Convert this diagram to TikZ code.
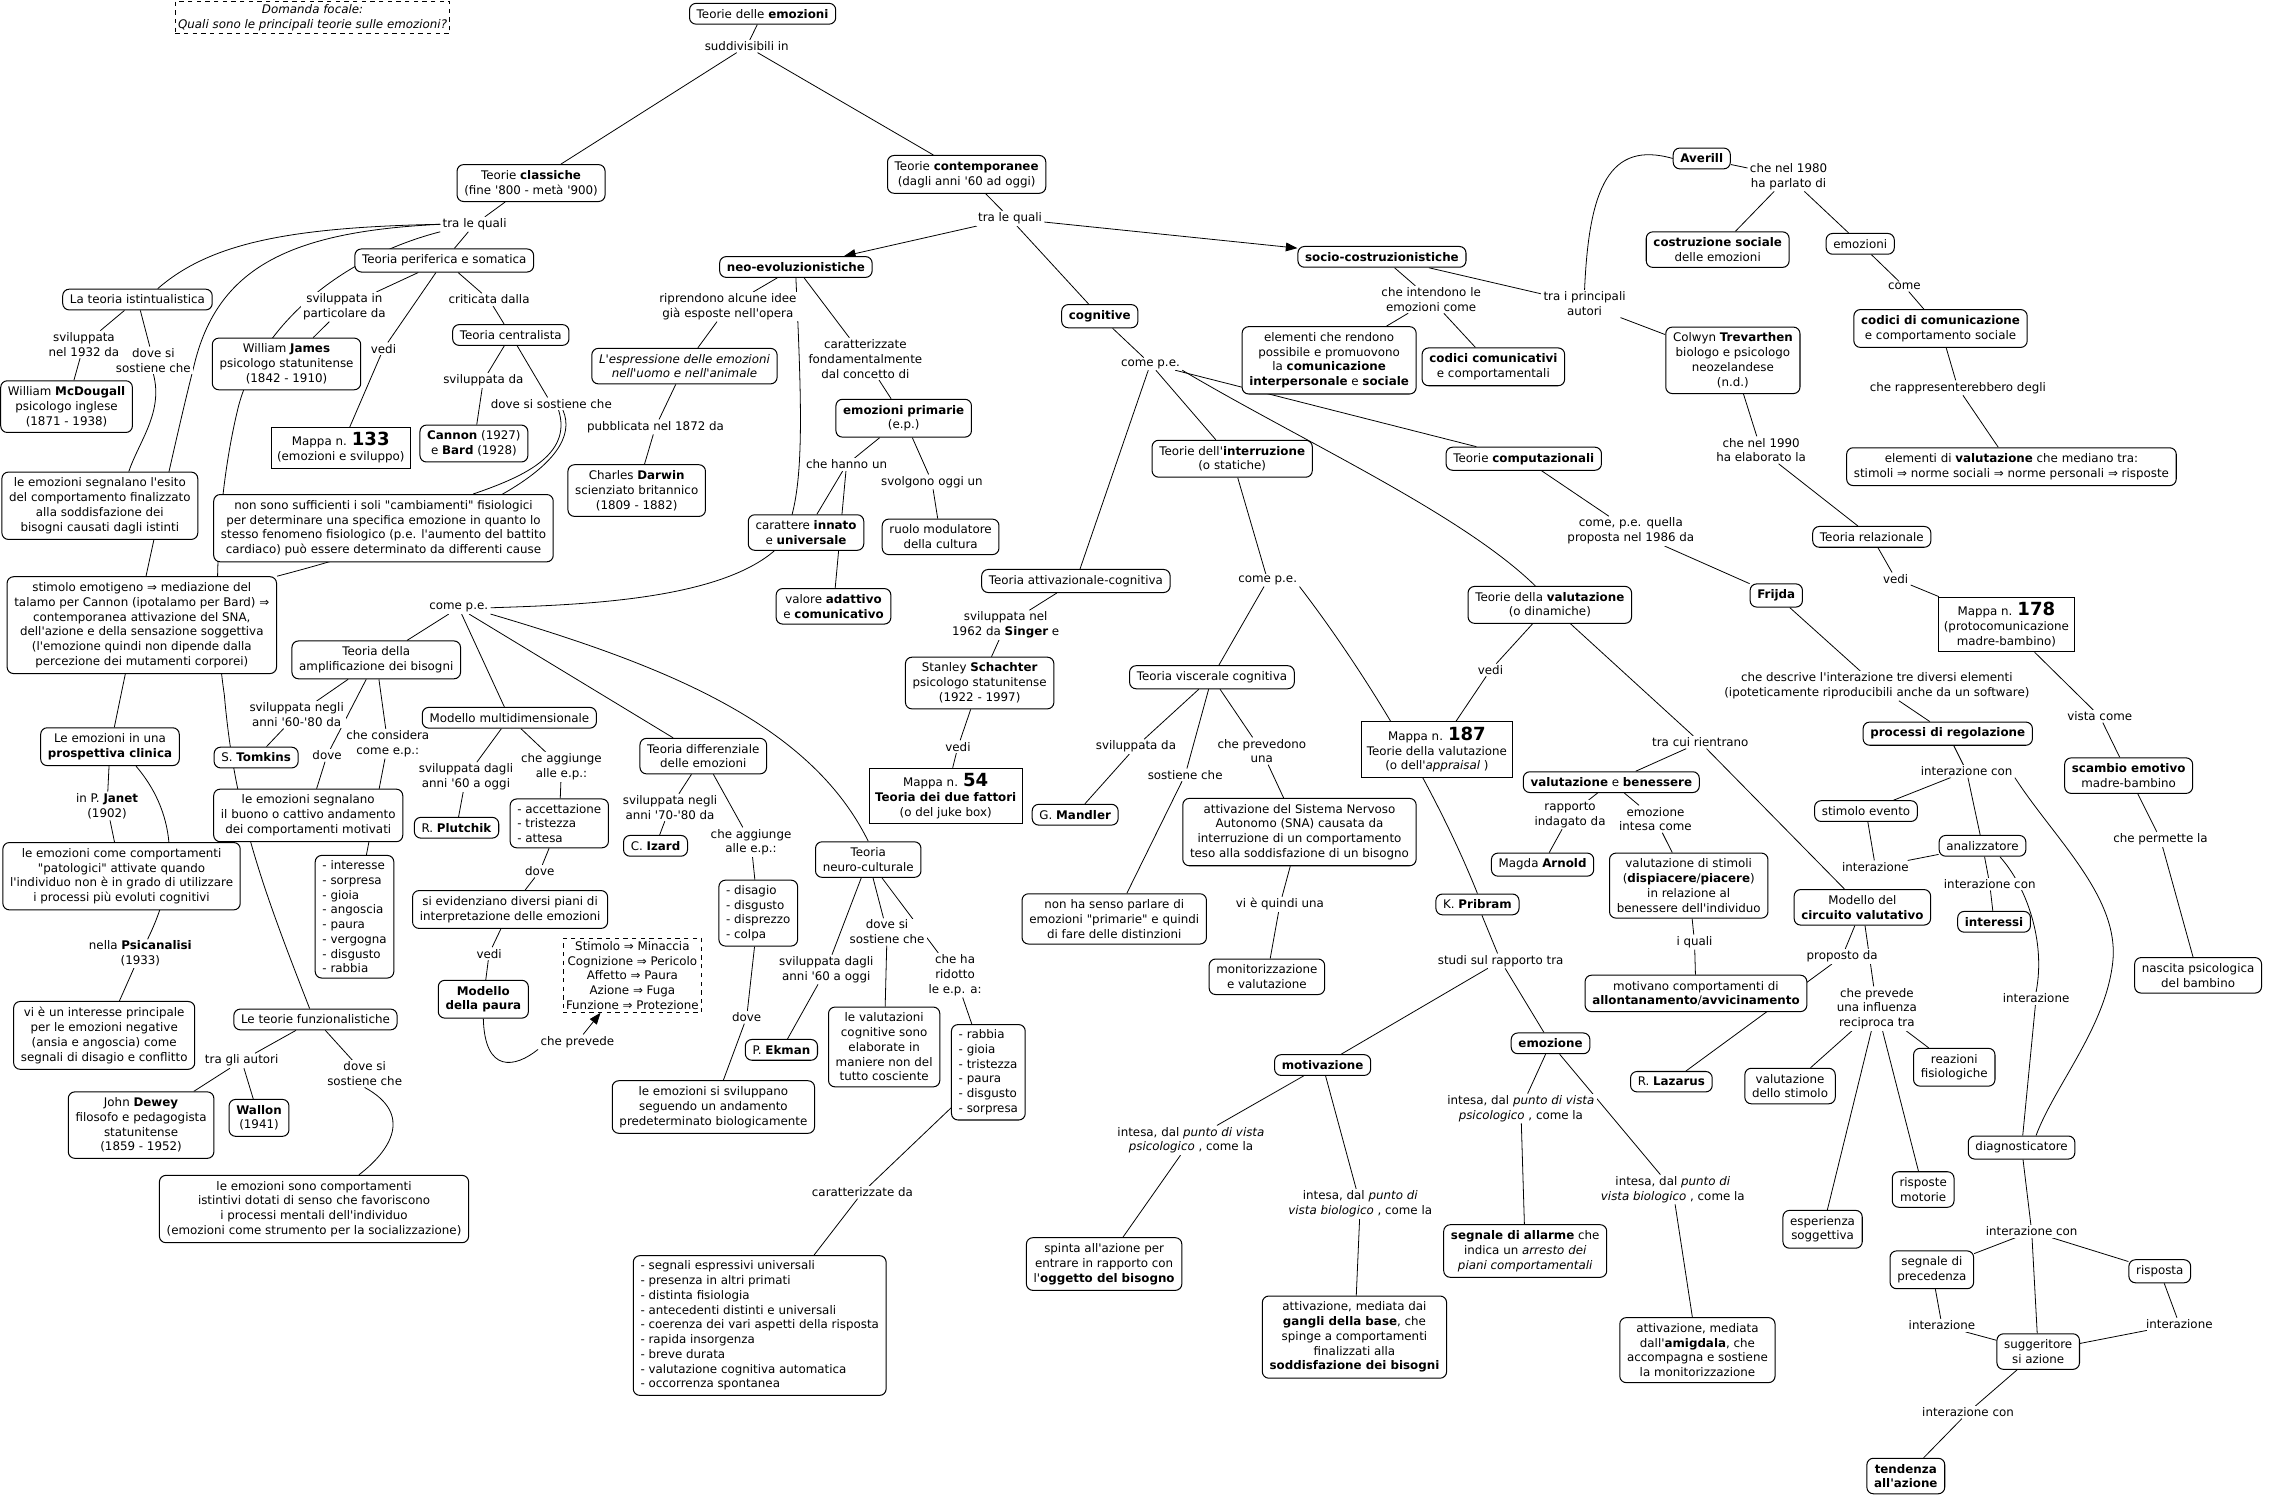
\documentclass[tikz,border=0pt]{standalone}
\usepackage{fontspec}
\setmainfont{DejaVu Sans}[Ligatures=TeXOff]
\usetikzlibrary{arrows.meta}
\pgfdeclarelayer{bg}
\pgfsetlayers{bg,main}
\tikzset{
  cb/.style={draw, line width=0.7pt, rounded corners=4.5pt, fill=white, align=center, inner xsep=5pt, inner ysep=4pt},
  rb/.style={draw, line width=0.7pt, fill=white, align=center, inner xsep=4pt, inner ysep=3.5pt},
  lb/.style={fill=white, align=center, inner xsep=1.5pt, inner ysep=1pt},
  lst/.style={cb, align=left, inner ysep=3.5pt},
  dbox/.style={draw, dashed, line width=0.6pt, fill=white, align=center, inner xsep=2pt, inner ysep=2pt},
  cn/.style={line width=0.55pt},
  ar/.style={cn, -{Triangle[length=8pt,width=6pt]}},
}
\newcommand{\bignum}[1]{{\fontsize{12.5}{12}\selectfont\bfseries #1}}
\begin{document}
\begin{tikzpicture}[x=1pt, y=-1pt, font=\fontsize{8.2}{10.2}\selectfont]
\useasboundingbox (0,0) rectangle (1568,1039);
% ---------- top
\node[dbox, font=\fontsize{8.2}{10.2}\selectfont\itshape] (focal) at (216,12) {Domanda focale:\\Quali sono le principali teorie sulle emozioni?};
\node[cb] (root) at (527,9.5) {Teorie delle \textbf{emozioni}};
\node[lb] (suddiv) at (516,32) {suddivisibili in};
\node[cb] (classiche) at (367,126.5) {Teorie \textbf{classiche}\\(fine '800 - metà '900)};
\node[cb] (contemp) at (668,120.5) {Teorie \textbf{contemporanee}\\(dagli anni '60 ad oggi)};
% ---------- classiche
\node[lb] (traclas) at (328,155) {tra le quali};
\node[cb] (perif) at (307,180) {Teoria periferica e somatica};
\node[cb] (istint) at (95,207) {La teoria istintualistica};
\node[lb] (svilpart) at (238,212) {sviluppata in\\particolare da};
\node[lb] (vedi133) at (265,241) {vedi};
\node[lb] (critic) at (338,207) {criticata dalla};
\node[cb] (james) at (198,251.5) {William \textbf{James}\\psicologo statunitense\\(1842 - 1910)};
\node[rb] (m133) at (235.5,309.5) {Mappa n. \bignum{133}\\(emozioni e sviluppo)};
\node[cb] (central) at (353,231.5) {Teoria centralista};
\node[lb] (svilda1) at (334,263) {sviluppata da};
\node[lb] (dovecent) at (381,279) {dove si sostiene che};
\node[cb] (cannon) at (327.5,306.5) {\textbf{Cannon} (1927)\\e \textbf{Bard} (1928)};
\node[lb] (doveist) at (106,249) {dove si\\sostiene che};
\node[lb] (svil1932) at (58,238) {sviluppata\\nel 1932 da};
\node[cb] (mcdoug) at (46,281) {William \textbf{McDougall}\\psicologo inglese\\(1871 - 1938)};
\node[cb] (esito) at (69,349.5) {le emozioni segnalano l'esito\\del comportamento finalizzato\\alla soddisfazione dei\\bisogni causati dagli istinti};
\node[cb] (nonsono) at (265,365) {non sono sufficienti i soli "cambiamenti" fisiologici\\per determinare una specifica emozione in quanto lo\\stesso fenomeno fisiologico (p.e. l'aumento del battito\\cardiaco) può essere determinato da differenti cause};
\node[cb] (stimolo) at (98,432) {stimolo emotigeno ⇒ mediazione del\\talamo per Cannon (ipotalamo per Bard) ⇒\\contemporanea attivazione del SNA,\\dell'azione e della sensazione soggettiva\\(l'emozione quindi non dipende dalla\\percezione dei mutamenti corporei)};
\node[cb] (clinica) at (76,516) {Le emozioni in una\\\textbf{prospettiva clinica}};
\node[lb] (janet) at (74,557) {in P. \textbf{Janet}\\(1902)};
\node[cb] (patol) at (84,605.5) {le emozioni come comportamenti\\"patologici" attivate quando\\l'individuo non è in grado di utilizzare\\i processi più evoluti cognitivi};
\node[lb] (psican) at (97,659) {nella \textbf{Psicanalisi}\\(1933)};
\node[cb] (vie) at (72,715.5) {vi è un interesse principale\\per le emozioni negative\\(ansia e angoscia) come\\segnali di disagio e conflitto};
\node[cb] (funz) at (218,704.5) {Le teorie funzionalistiche};
\node[lb] (tragli) at (167,733) {tra gli autori};
\node[lb] (dovefun) at (252,742) {dove si\\sostiene che};
\node[cb] (dewey) at (97.5,777.5) {John \textbf{Dewey}\\filosofo e pedagogista\\statunitense\\(1859 - 1952)};
\node[cb] (wallon) at (179,772.5) {\textbf{Wallon}\\(1941)};
\node[cb] (istintivi) at (217,835.5) {le emozioni sono comportamenti\\istintivi dotati di senso che favoriscono\\i processi mentali dell'individuo\\(emozioni come strumento per la socializzazione)};
% ---------- neo-evoluzionistiche
\node[lb] (tracont) at (698,151) {tra le quali};
\node[cb] (neoevo) at (550,184.5) {\textbf{neo-evoluzionistiche}};
\node[lb] (riprend) at (503,212) {riprendono alcune idee\\già esposte nell'opera};
\node[cb] (espress) at (473,253) {\textit{L'espressione delle emozioni}\\\textit{nell'uomo e nell'animale}};
\node[lb] (pubbl) at (453,295) {pubblicata nel 1872 da};
\node[cb] (darwin) at (440,339) {Charles \textbf{Darwin}\\scienziato britannico\\(1809 - 1882)};
\node[lb] (caratt) at (598,248) {caratterizzate\\fondamentalmente\\dal concetto di};
\node[cb] (eprim) at (624.5,289) {\textbf{emozioni primarie}\\(e.p.)};
\node[lb] (hanno) at (585,321) {che hanno un};
\node[lb] (svolgono) at (644,333) {svolgono oggi un};
\node[cb] (innato) at (557,368) {carattere \textbf{innato}\\e \textbf{universale}};
\node[cb] (ruolo) at (650,371) {ruolo modulatore\\della cultura};
\node[cb] (adattivo) at (576,419) {valore \textbf{adattivo}\\e \textbf{comunicativo}};
\node[lb] (comepe1) at (317,420) {come p.e.};
\node[cb] (amplif) at (260,456) {Teoria della\\amplificazione dei bisogni};
\node[lb] (svil6080) at (205,494) {sviluppata negli\\anni '60-'80 da};
\node[lb] (dove1) at (226,522) {dove};
\node[lb] (considera) at (268,514) {che considera\\come e.p.:};
\node[cb] (tomkins) at (177,523.5) {S. \textbf{Tomkins}};
\node[cb] (buono) at (213,563.5) {le emozioni segnalano\\il buono o cattivo andamento\\dei comportamenti motivati};
\node[lst] (list1) at (245,633.5) {- interesse\\- sorpresa\\- gioia\\- angoscia\\- paura\\- vergogna\\- disgusto\\- rabbia};
\node[cb] (multid) at (352,496) {Modello multidimensionale};
\node[lb] (svil60) at (322,537) {sviluppata dagli\\anni '60 a oggi};
\node[lb] (aggiunge1) at (388,530) {che aggiunge\\alle e.p.:};
\node[cb] (plutchik) at (315.5,572) {R. \textbf{Plutchik}};
\node[lst] (list2) at (386.5,569) {- accettazione\\- tristezza\\- attesa};
\node[lb] (dove2) at (373,602) {dove};
\node[cb] (piani) at (352.5,628.5) {si evidenziano diversi piani di\\interpretazione delle emozioni};
\node[lb] (vedipaura) at (338,659) {vedi};
\node[cb] (paura) at (334,690.5) {\textbf{Modello}\\\textbf{della paura}};
\node[dbox] (dashbox) at (437,674) {Stimolo ⇒ Minaccia\\Cognizione ⇒ Pericolo\\Affetto ⇒ Paura\\Azione ⇒ Fuga\\Funzione ⇒ Protezione};
\node[lb] (prevede) at (399,720) {che prevede};
\node[cb] (differ) at (486,522.5) {Teoria differenziale\\delle emozioni};
\node[lb] (svil7080) at (463,558) {sviluppata negli\\anni '70-'80 da};
\node[lb] (aggiunge2) at (519,582) {che aggiunge\\alle e.p.:};
\node[cb] (izard) at (453,584.5) {C. \textbf{Izard}};
\node[lst] (list3) at (524,631) {- disagio\\- disgusto\\- disprezzo\\- colpa};
\node[lb] (dove3) at (516,703) {dove};
\node[cb] (svil) at (493,765) {le emozioni si sviluppano\\seguendo un andamento\\predeterminato biologicamente};
\node[cb] (neuro) at (600,594) {Teoria\\neuro-culturale};
\node[lb] (svil60b) at (571,670) {sviluppata dagli\\anni '60 a oggi};
\node[lb] (dovesost) at (613,644) {dove si\\sostiene che};
\node[lb] (ridotto) at (660,674) {che ha\\ridotto\\le e.p. a:};
\node[cb] (ekman) at (540,725.5) {P. \textbf{Ekman}};
\node[cb] (valcog) at (611,723.5) {le valutazioni\\cognitive sono\\elaborate in\\maniere non del\\tutto cosciente};
\node[lst] (list4) at (683,741) {- rabbia\\- gioia\\- tristezza\\- paura\\- disgusto\\- sorpresa};
\node[lb] (caratda) at (596,824) {caratterizzate da};
\node[lst] (list5) at (525,916) {- segnali espressivi universali\\- presenza in altri primati\\- distinta fisiologia\\- antecedenti distinti e universali\\- coerenza dei vari aspetti della risposta\\- rapida insorgenza\\- breve durata\\- valutazione cognitiva automatica\\- occorrenza spontanea};
% ---------- cognitive
\node[cb] (cognit) at (760,218.5) {\textbf{cognitive}};
\node[lb] (comepe2) at (795,251.5) {come p.e.};
\node[cb] (interr) at (851.5,317) {Teorie dell'\textbf{interruzione}\\(o statiche)};
\node[cb] (attiv) at (743.5,401.5) {Teoria attivazionale-cognitiva};
\node[lb] (svil1962) at (695,432) {sviluppata nel\\1962 da \textbf{Singer} e};
\node[cb] (schachter) at (677,472) {Stanley \textbf{Schachter}\\psicologo statunitense\\(1922 - 1997)};
\node[lb] (vedi54) at (662,516) {vedi};
\node[rb] (m54) at (653.5,550) {Mappa n. \bignum{54}\\\textbf{Teoria dei due fattori}\\(o del juke box)};
\node[lb] (comepe3) at (876,401) {come p.e.};
\node[cb] (viscer) at (837.5,468) {Teoria viscerale cognitiva};
\node[lb] (svilda2) at (785,516) {sviluppata da};
\node[lb] (sostiene) at (819,535.5) {sostiene che};
\node[lb] (prevedono) at (872,519) {che prevedono\\una};
\node[cb] (mandler) at (743,563) {G. \textbf{Mandler}};
\node[cb] (nonha) at (770,635) {non ha senso parlare di\\emozioni "primarie" e quindi\\di fare delle distinzioni};
\node[cb] (attSNA) at (898,575) {attivazione del Sistema Nervoso\\Autonomo (SNA) causata da\\interruzione di un comportamento\\teso alla soddisfazione di un bisogno};
\node[lb] (quindi) at (884.5,625) {vi è quindi una};
\node[cb] (monit) at (875.5,675) {monitorizzazione\\e valutazione};
\node[cb] (valut) at (1071,418) {Teorie della \textbf{valutazione}\\(o dinamiche)};
\node[lb] (vedi187) at (1030,463) {vedi};
\node[rb] (m187) at (993,518) {Mappa n. \bignum{187}\\Teorie della valutazione\\(o dell'\textit{appraisal} )};
\node[cb] (pribram) at (1021,625) {K. \textbf{Pribram}};
\node[lb] (studi) at (1037,664) {studi sul rapporto tra};
\node[cb] (motiv) at (914,736) {\textbf{motivazione}};
\node[cb] (emoz) at (1071.5,721) {\textbf{emozione}};
\node[lb] (intpsi1) at (823,788) {intesa, dal \textit{punto di vista}\\\textit{psicologico} , come la};
\node[lb] (intbio1) at (940,832) {intesa, dal \textit{punto di}\\\textit{vista biologico} , come la};
\node[lb] (intpsi2) at (1051,766) {intesa, dal \textit{punto di vista}\\\textit{psicologico} , come la};
\node[lb] (intbio2) at (1156,822) {intesa, dal \textit{punto di}\\\textit{vista biologico} , come la};
\node[cb] (spinta) at (763,873.5) {spinta all'azione per\\entrare in rapporto con\\l'\textbf{oggetto del bisogno}};
\node[cb] (gangli) at (936,924) {attivazione, mediata dai\\\textbf{gangli della base}, che\\spinge a comportamenti\\finalizzati alla\\\textbf{soddisfazione dei bisogni}};
\node[cb] (allarme) at (1054,864.5) {\textbf{segnale di allarme} che\\indica un \textit{arresto dei}\\\textit{piani comportamentali}};
\node[cb] (amigd) at (1173,933) {attivazione, mediata\\dall'\textbf{amigdala}, che\\accompagna e sostiene\\la monitorizzazione};
% ---------- socio
\node[cb] (socio) at (955,177.5) {\textbf{socio-costruzionistiche}};
\node[lb] (intendono) at (989,207) {che intendono le\\emozioni come};
\node[cb] (elementi) at (918.5,249) {elementi che rendono\\possibile e promuovono\\la \textbf{comunicazione}\\\textbf{interpersonale} e \textbf{sociale}};
\node[cb] (codcom) at (1032,253.5) {\textbf{codici comunicativi}\\e comportamentali};
\node[lb] (traiprinc) at (1095,210) {tra i principali\\autori};
\node[cb] (averill) at (1176,109.5) {\textbf{Averill}};
\node[lb] (nel1980) at (1236,122) {che nel 1980\\ha parlato di};
\node[cb] (costr) at (1187,172.5) {\textbf{costruzione sociale}\\delle emozioni};
\node[cb] (emozioni) at (1285.5,168.5) {emozioni};
\node[lb] (come) at (1316,198) {come};
\node[cb] (codici) at (1341,227) {\textbf{codici di comunicazione}\\e comportamento sociale};
\node[lb] (rappres) at (1353,268) {che rappresenterebbero degli};
\node[cb] (elemval) at (1390,322.5) {elementi di \textbf{valutazione} che mediano tra:\\stimoli ⇒ norme sociali ⇒ norme personali ⇒ risposte};
\node[cb] (trevarthen) at (1197.5,249) {Colwyn \textbf{Trevarthen}\\biologo e psicologo\\neozelandese\\(n.d.)};
\node[lb] (nel1990) at (1217,311) {che nel 1990\\ha elaborato la};
\node[cb] (relaz) at (1293.5,371) {Teoria relazionale};
\node[lb] (vedi178) at (1310,400) {vedi};
\node[rb] (m178) at (1386.5,431.5) {Mappa n. \bignum{178}\\(protocomunicazione\\madre-bambino)};
\node[lb] (vista) at (1451,495) {vista come};
\node[cb] (scambio) at (1471,536) {\textbf{scambio emotivo}\\madre-bambino};
\node[lb] (permette) at (1493,580) {che permette la};
\node[cb] (nascita) at (1519,674) {nascita psicologica\\del bambino};
% ---------- computazionali
\node[cb] (computaz) at (1053,317) {Teorie \textbf{computazionali}};
\node[lb] (comequella) at (1127,367) {come, p.e. quella\\proposta nel 1986 da};
\node[cb] (frijda) at (1227.5,411.5) {\textbf{Frijda}};
\node[lb] (descrive) at (1297,474) {che descrive l'interazione tre diversi elementi\\(ipoteticamente riproducibili anche da un software)};
\node[cb] (processi) at (1346,507) {\textbf{processi di regolazione}};
\node[lb] (intcon1) at (1359,533) {interazione con};
\node[cb] (stimev) at (1289.5,560.5) {stimolo evento};
\node[cb] (analiz) at (1370,584.5) {analizzatore};
\node[lb] (interaz1) at (1296,599) {interazione};
\node[lb] (intcon2) at (1375,611) {interazione con};
\node[cb] (interessi) at (1378,637) {\textbf{interessi}};
\node[lb] (interaz2) at (1407,690) {interazione};
\node[cb] (diagn) at (1397,793) {diagnosticatore};
\node[lb] (intcon3) at (1404,851) {interazione con};
\node[cb] (segnprec) at (1335,877.5) {segnale di\\precedenza};
\node[cb] (risposta) at (1492.5,878.5) {risposta};
\node[lb] (interaz3) at (1342,916) {interazione};
\node[lb] (interaz4) at (1506,915) {interazione};
\node[cb] (sugger) at (1408.5,934) {suggeritore\\si azione};
\node[lb] (intcon4) at (1360,976) {interazione con};
\node[cb] (tendenza) at (1317,1020) {\textbf{tendenza}\\\textbf{all'azione}};
% ---------- valutazione
\node[lb] (tracui) at (1175,513) {tra cui rientrano};
\node[cb] (valben) at (1113.5,540.5) {\textbf{valutazione} e \textbf{benessere}};
\node[lb] (rapporto) at (1085,563) {rapporto\\indagato da};
\node[lb] (intesacome) at (1144,566) {emozione\\intesa come};
\node[cb] (arnold) at (1066,597.5) {Magda \textbf{Arnold}};
\node[cb] (valstim) at (1167,612) {valutazione di stimoli\\(\textbf{dispiacere}/\textbf{piacere})\\in relazione al\\benessere dell'individuo};
\node[lb] (iquali) at (1171,651) {i quali};
\node[cb] (allont) at (1172,686.5) {motivano comportamenti di\\\textbf{allontanamento}/\textbf{avvicinamento}};
\node[cb] (lazarus) at (1155,747.5) {R. \textbf{Lazarus}};
\node[cb] (circuito) at (1287,627) {Modello del\\\textbf{circuito valutativo}};
\node[lb] (proposto) at (1273,661) {proposto da};
\node[lb] (influenza) at (1297,697) {che prevede\\una influenza\\reciproca tra};
\node[cb] (valstimolo) at (1237,750.5) {valutazione\\dello stimolo};
\node[cb] (reazioni) at (1350.5,737.5) {reazioni\\fisiologiche};
\node[cb] (esperienza) at (1259.5,849.5) {esperienza\\soggettiva};
\node[cb] (rispmot) at (1329,822) {risposte\\motorie};

% ================= connectors
\begin{pgfonlayer}{bg}
\fill[white] (0,0) rectangle (1568,1039);
\draw[cn] (root) -- (suddiv);
\draw[cn] (suddiv) -- (classiche);
\draw[cn] (suddiv) -- (contemp);
\draw[cn] (classiche) -- (traclas) -- (perif);
\draw[cn] (traclas.west) .. controls (200,157) and (145,168) .. ([xshift=14pt]istint.north);
\draw[cn] (traclas.west) .. controls (200,160) and (150,185) .. (134,253) .. controls (122,300) and (100,400) .. ([xshift=3pt]clinica.north);
\draw[cn] (traclas.south west) .. controls (235,178) and (180,225) .. (165,280) .. controls (150,340) and (146,420) .. (155,480) .. controls (162,560) and (180,610) .. ([xshift=-4pt]funz.north);
\draw[cn] (perif) -- (svilpart) -- (james);
\draw[cn] (perif) -- (vedi133) -- (m133);
\draw[cn] (perif) -- (critic) -- (central);
\draw[cn] (central) -- (svilda1) -- (cannon);
\draw[cn] (central) -- (dovecent);
\draw[cn] ([xshift=5pt]dovecent.south) .. controls (396,315) and (360,330) .. ([xshift=62pt]nonsono.north);
\draw[cn] ([xshift=8pt]dovecent.south) .. controls (405,320) and (330,362) .. (stimolo.north east);
\draw[cn] (istint) -- (svil1932) -- (mcdoug);
\draw[cn] (istint) -- (doveist);
\draw[cn] (doveist.south) .. controls (113,285) and (96,305) .. ([xshift=20pt]esito.north);
\draw[cn] (clinica) -- (janet) -- (patol);
\draw[cn] ([xshift=18pt]clinica.south) .. controls (120,560) and (126,600) .. ([xshift=5pt]psican.north);
\draw[cn] (psican) -- (vie);
\draw[cn] (funz) -- (tragli) -- (dewey);
\draw[cn] (tragli) -- (wallon);
\draw[cn] (funz) -- (dovefun);
\draw[cn] (dovefun.south) .. controls (286,770) and (270,795) .. ([xshift=31pt]istintivi.north);
% contemporanee
\draw[cn] (contemp) -- (tracont);
\draw[ar] (tracont) -- (neoevo);
\draw[ar] (tracont) -- (socio);
\draw[cn] (tracont) -- (cognit);
\draw[cn] (neoevo) -- (riprend) -- (espress) -- (pubbl) -- (darwin);
\draw[cn] (neoevo) -- (caratt) -- (eprim);
\draw[cn] (eprim) -- (hanno) -- (innato);
\draw[cn] (hanno) -- (adattivo);
\draw[cn] (eprim) -- (svolgono) -- (ruolo);
\draw[cn] (neoevo.south) .. controls (555,300) and (556,350) .. (538,378) .. controls (500,415) and (400,418) .. (comepe1.east);
\draw[cn] (comepe1) -- (amplif);
\draw[cn] (comepe1) -- (multid);
\draw[cn] (comepe1) -- (differ);
\draw[cn] (comepe1.south east) .. controls (460,460) and (560,500) .. (neuro.north);
\draw[cn] (amplif) -- (svil6080) -- (tomkins);
\draw[cn] (amplif) -- (dove1) -- (buono);
\draw[cn] (amplif) -- (considera) -- (list1);
\draw[cn] (multid) -- (svil60) -- (plutchik);
\draw[cn] (multid) -- (aggiunge1) -- (list2) -- (dove2) -- (piani) -- (vedipaura) -- (paura);
\draw[cn] (paura.south) .. controls (335,742) and (356,738) .. (prevede.south west);
\draw[ar] ([xshift=4pt]prevede.north) -- ([xshift=-22pt]dashbox.south);
\draw[cn] (differ) -- (svil7080) -- (izard);
\draw[cn] (differ) -- (aggiunge2) -- (list3) -- (dove3) -- (svil);
\draw[cn] (neuro) -- (svil60b) -- (ekman);
\draw[cn] (neuro) -- (dovesost) -- (valcog);
\draw[cn] (neuro) -- (ridotto) -- (list4) -- (caratda) -- (list5);
% cognitive
\draw[cn] (cognit) -- (comepe2);
\draw[cn] (comepe2) -- (attiv);
\draw[cn] (comepe2) -- (interr);
\draw[cn] (comepe2) -- (computaz);
\draw[cn] (comepe2.south east) .. controls (900,305) and (1010,355) .. ([xshift=-10pt]valut.north);
\draw[cn] (attiv) -- (svil1962) -- (schachter) -- (vedi54) -- (m54);
\draw[cn] (interr) -- (comepe3) -- (viscer);
\draw[cn] (comepe3.south east) .. controls (940,460) and (990,540) .. (pribram.north);
\draw[cn] (viscer) -- (svilda2) -- (mandler);
\draw[cn] (viscer) -- (sostiene) -- (nonha);
\draw[cn] (viscer) -- (prevedono) -- (attSNA) -- (quindi) -- (monit);
\draw[cn] (valut) -- (vedi187) -- (m187);
\draw[cn] (valut) -- (tracui);
\draw[cn] (tracui) -- (valben);
\draw[cn] (tracui) -- (circuito);
\draw[cn] (pribram) -- (studi);
\draw[cn] (studi) -- (motiv);
\draw[cn] (studi) -- (emoz);
\draw[cn] (motiv) -- (intpsi1) -- (spinta);
\draw[cn] (motiv) -- (intbio1) -- (gangli);
\draw[cn] (emoz) -- (intpsi2) -- (allarme);
\draw[cn] (emoz) -- (intbio2) -- (amigd);
% socio
\draw[cn] (socio) -- (intendono);
\draw[cn] (intendono) -- (elementi);
\draw[cn] (intendono) -- (codcom);
\draw[cn] (socio) -- (traiprinc);
\draw[cn] (traiprinc) -- (trevarthen);
\draw[cn] (traiprinc.north) .. controls (1098,130) and (1112,97) .. (averill.west);
\draw[cn] (averill) -- (nel1980);
\draw[cn] (nel1980) -- (costr);
\draw[cn] (nel1980) -- (emozioni) -- (come) -- (codici) -- (rappres) -- (elemval);
\draw[cn] (trevarthen) -- (nel1990) -- (relaz) -- (vedi178) -- (m178) -- (vista) -- (scambio) -- (permette) -- (nascita);
% computazionali
\draw[cn] (computaz) -- (comequella) -- (frijda) -- (descrive) -- (processi) -- (intcon1);
\draw[cn] (intcon1) -- (stimev);
\draw[cn] (intcon1) -- (analiz);
\draw[cn] (intcon1.south east) .. controls (1420,580) and (1465,620) .. (1460,665) .. controls (1455,710) and (1420,750) .. ([xshift=10pt]diagn.north);
\draw[cn] (stimev) -- (interaz1) -- (analiz);
\draw[cn] (analiz) -- (intcon2) -- (interessi);
\draw[cn] ([xshift=12pt]analiz.south) .. controls (1400,612) and (1414,650) .. (interaz2.north);
\draw[cn] (interaz2) -- (diagn);
\draw[cn] (diagn) -- (intcon3);
\draw[cn] (intcon3) -- (segnprec);
\draw[cn] (intcon3) -- (risposta);
\draw[cn] (intcon3) -- (sugger);
\draw[cn] (segnprec) -- (interaz3) -- (sugger);
\draw[cn] (risposta) -- (interaz4) -- (sugger);
\draw[cn] (sugger) -- (intcon4) -- (tendenza);
% valutazione
\draw[cn] (valben) -- (rapporto) -- (arnold);
\draw[cn] (valben) -- (intesacome) -- (valstim) -- (iquali) -- (allont);
\draw[cn] (circuito) -- (proposto) -- (lazarus);
\draw[cn] (circuito) -- (influenza);
\draw[cn] (influenza) -- (valstimolo);
\draw[cn] (influenza) -- (reazioni);
\draw[cn] (influenza) -- (esperienza);
\draw[cn] (influenza) -- (rispmot);
\end{pgfonlayer}
\end{tikzpicture}
\end{document}
